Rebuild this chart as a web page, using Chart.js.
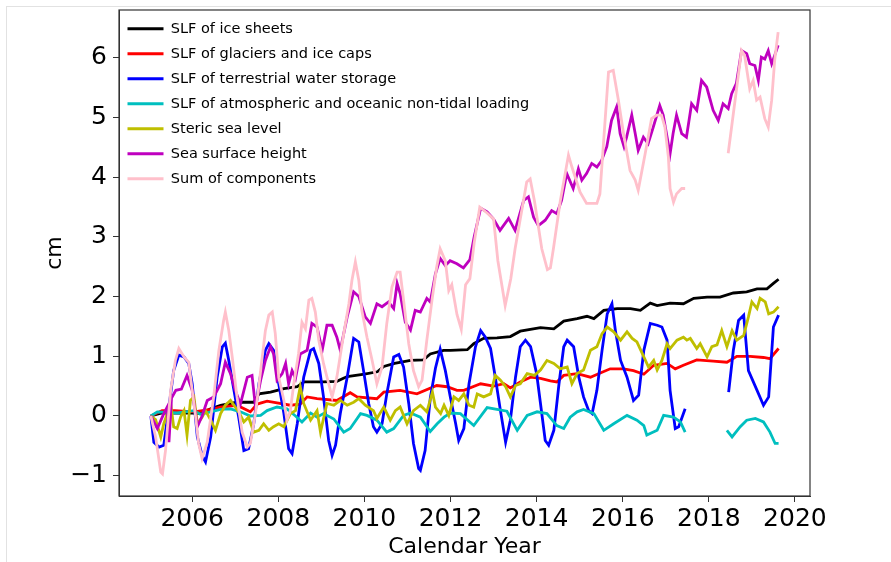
<!DOCTYPE html>
<html>
<head>
<meta charset="utf-8">
<script src="https://cdn.jsdelivr.net/npm/chart.js@4.4.1/dist/chart.umd.min.js"></script>
<style>
  html, body { margin: 0; padding: 0; background: #fff; }
  #wrap { position: relative; width: 891px; height: 562px; }
  #edge { position: absolute; left: 6px; top: 6px; right: 0; bottom: 0;
          border-top: 1px solid #e2e2e2; border-left: 1px solid #e2e2e2; pointer-events: none; }
  canvas { position: absolute; left: 0; top: 0; }
</style>
</head>
<body>
<div id="wrap">
  <canvas id="c" width="891" height="562"></canvas>
  <div id="edge"></div>
</div>
<script>
// Sea-level budget components, [decimal year, cm]; null marks the data gap
const iceSheets = [
  [2005.04,0.00],[2005.3,0.05],[2005.6,0.05],[2006.0,0.05],[2006.2,0.04],[2006.43,0.12],[2006.66,0.18],
  [2007.04,0.23],[2007.43,0.23],[2007.55,0.37],[2007.82,0.40],[2008.13,0.46],[2008.44,0.49],[2008.6,0.57],
  [2009.05,0.57],[2009.36,0.58],[2009.6,0.66],[2010.0,0.70],[2010.3,0.74],[2010.45,0.83],[2010.7,0.88],
  [2011.07,0.93],[2011.37,0.94],[2011.53,1.04],[2011.84,1.10],[2012.0,1.10],[2012.39,1.11],[2012.54,1.21],
  [2012.77,1.30],[2013.08,1.31],[2013.39,1.33],[2013.62,1.42],[2014.09,1.48],[2014.4,1.46],[2014.63,1.59],
  [2014.94,1.63],[2015.17,1.67],[2015.33,1.63],[2015.56,1.77],[2015.87,1.80],[2016.18,1.80],[2016.41,1.77],
  [2016.64,1.89],[2016.8,1.85],[2017.1,1.89],[2017.41,1.88],[2017.65,1.97],[2017.96,1.99],[2018.26,1.99],
  [2018.57,2.06],[2018.88,2.08],[2019.12,2.13],[2019.35,2.13],[2019.5,2.22],[2019.62,2.29]
];
const glaciers = [
  [2005.04,0.00],[2005.3,0.09],[2005.6,0.09],[2006.04,0.07],[2006.43,0.11],[2006.66,0.15],[2007.04,0.18],
  [2007.35,0.07],[2007.51,0.20],[2007.74,0.25],[2007.97,0.22],[2008.28,0.18],[2008.51,0.20],[2008.67,0.32],
  [2008.9,0.29],[2009.36,0.26],[2009.67,0.39],[2009.83,0.32],[2010.29,0.29],[2010.45,0.40],[2010.83,0.43],
  [2011.22,0.37],[2011.68,0.51],[2011.92,0.49],[2012.15,0.43],[2012.31,0.43],[2012.7,0.54],[2013.0,0.50],
  [2013.24,0.54],[2013.39,0.47],[2013.62,0.57],[2013.86,0.65],[2014.09,0.63],[2014.32,0.59],[2014.47,0.57],
  [2014.63,0.68],[2014.94,0.71],[2015.25,0.65],[2015.48,0.72],[2015.71,0.79],[2016.02,0.79],[2016.25,0.76],
  [2016.49,0.70],[2016.72,0.85],[2017.03,0.88],[2017.22,0.79],[2017.41,0.85],[2017.72,0.94],[2018.1,0.92],
  [2018.42,0.90],[2018.65,1.00],[2018.96,1.00],[2019.27,0.98],[2019.42,0.96],[2019.62,1.13]
];
const waterStorage = [
  [2005.04,0.00],[2005.11,-0.44],[2005.23,-0.52],[2005.34,-0.49],[2005.46,0.15],[2005.57,0.76],[2005.69,1.02],
  [2005.81,0.99],[2005.92,0.88],[2006.0,0.54],[2006.12,-0.35],[2006.23,-0.66],[2006.31,-0.77],[2006.43,-0.35],
  [2006.58,0.65],[2006.7,1.16],[2006.77,1.22],[2006.85,0.93],[2006.97,0.43],[2007.08,-0.02],[2007.2,-0.58],
  [2007.31,-0.55],[2007.43,-0.13],[2007.55,0.54],[2007.7,1.10],[2007.78,1.21],[2007.89,1.10],[2008.01,0.54],
  [2008.13,0.04],[2008.24,-0.55],[2008.32,-0.63],[2008.44,-0.13],[2008.59,0.65],[2008.75,1.10],[2008.82,1.13],
  [2008.94,0.88],[2009.05,0.32],[2009.17,-0.41],[2009.25,-0.66],[2009.33,-0.49],[2009.44,0.04],[2009.6,0.65],
  [2009.75,1.30],[2009.87,1.24],[2009.98,0.76],[2010.1,0.21],[2010.21,-0.18],[2010.29,-0.27],[2010.41,-0.13],
  [2010.52,0.37],[2010.68,0.99],[2010.8,1.03],[2010.91,0.82],[2011.03,0.21],[2011.14,-0.46],[2011.26,-0.88],
  [2011.3,-0.91],[2011.41,-0.58],[2011.53,0.30],[2011.65,0.80],[2011.76,1.12],[2011.88,0.76],[2012.0,0.30],
  [2012.12,-0.13],[2012.19,-0.41],[2012.31,-0.21],[2012.43,0.54],[2012.58,1.16],[2012.7,1.43],[2012.81,1.32],
  [2012.93,1.13],[2013.04,0.65],[2013.16,0.09],[2013.28,-0.44],[2013.39,-0.07],[2013.51,0.65],[2013.62,1.16],
  [2013.74,1.27],[2013.86,1.16],[2014.0,0.71],[2014.09,0.21],[2014.2,-0.41],[2014.28,-0.49],[2014.4,-0.24],
  [2014.52,0.54],[2014.63,1.16],[2014.71,1.27],[2014.86,1.16],[2014.98,0.65],[2015.09,0.32],[2015.21,0.09],
  [2015.29,0.04],[2015.4,0.43],[2015.52,1.10],[2015.64,1.71],[2015.75,1.88],[2015.83,1.43],[2015.95,0.93],
  [2016.1,0.65],[2016.25,0.26],[2016.37,0.35],[2016.49,1.10],[2016.64,1.55],[2016.8,1.52],[2016.91,1.49],
  [2017.03,1.27],[2017.1,0.43],[2017.22,-0.21],[2017.3,-0.18],[2017.45,0.12],[2017.95,null],
  [2018.46,0.40],[2018.57,1.10],[2018.69,1.60],[2018.81,1.69],[2018.92,0.76],[2019.12,0.43],[2019.27,0.18],
  [2019.39,0.32],[2019.5,1.49],[2019.62,1.69]
];
const atmOcean = [
  [2005.04,0.00],[2005.19,0.07],[2005.65,0.05],[2006.04,0.09],[2006.19,0.03],[2006.43,0.07],[2006.66,0.11],
  [2006.89,0.12],[2007.12,0.07],[2007.35,0.00],[2007.59,0.01],[2007.74,0.09],[2007.97,0.15],[2008.2,0.12],
  [2008.4,0.00],[2008.55,-0.10],[2008.75,0.05],[2008.9,-0.02],[2009.05,0.04],[2009.29,-0.05],[2009.52,-0.27],
  [2009.67,-0.21],[2009.91,0.04],[2010.06,0.01],[2010.29,-0.07],[2010.52,-0.27],[2010.68,-0.21],[2010.91,0.01],
  [2011.07,0.05],[2011.3,-0.02],[2011.53,-0.26],[2011.69,-0.13],[2011.85,-0.02],[2012.0,0.05],[2012.23,0.04],
  [2012.54,-0.16],[2012.85,0.14],[2013.08,0.11],[2013.31,0.08],[2013.55,-0.24],[2013.78,0.01],[2014.01,0.07],
  [2014.24,0.04],[2014.47,-0.16],[2014.63,-0.21],[2014.78,-0.02],[2014.94,0.07],[2015.09,0.11],[2015.33,0.04],
  [2015.56,-0.24],[2015.79,-0.13],[2016.1,0.01],[2016.33,-0.07],[2016.49,-0.16],[2016.56,-0.32],[2016.8,-0.24],
  [2016.95,0.01],[2017.18,-0.02],[2017.34,-0.10],[2017.45,-0.27],[2017.95,null],
  [2018.42,-0.24],[2018.54,-0.35],[2018.73,-0.18],[2018.88,-0.07],[2019.08,-0.04],[2019.27,-0.10],
  [2019.42,-0.27],[2019.54,-0.46],[2019.62,-0.46]
];
const stericSeaLevel = [
  [2005.04,0.00],[2005.15,-0.06],[2005.27,-0.35],[2005.34,-0.13],[2005.42,0.04],[2005.5,0.21],[2005.57,-0.18],
  [2005.65,-0.21],[2005.73,-0.02],[2005.81,0.09],[2005.88,-0.32],[2005.96,0.26],[2006.04,0.32],[2006.12,-0.13],
  [2006.23,-0.02],[2006.31,0.09],[2006.43,-0.07],[2006.54,-0.24],[2006.66,0.04],[2006.77,0.18],[2006.89,0.26],
  [2007.0,0.15],[2007.08,0.07],[2007.2,-0.10],[2007.31,-0.02],[2007.43,-0.27],[2007.55,-0.24],[2007.66,-0.13],
  [2007.78,-0.24],[2007.89,-0.18],[2008.01,-0.13],[2008.13,-0.18],[2008.28,0.04],[2008.4,0.09],[2008.51,0.49],
  [2008.59,0.21],[2008.75,-0.07],[2008.9,0.09],[2008.98,-0.27],[2009.13,0.21],[2009.29,0.18],[2009.44,0.26],
  [2009.6,0.18],[2009.75,0.23],[2009.87,0.29],[2010.02,0.18],[2010.21,0.09],[2010.29,-0.04],[2010.45,0.15],
  [2010.6,-0.07],[2010.72,0.09],[2010.83,0.15],[2010.99,-0.13],[2011.14,0.09],[2011.3,0.18],[2011.45,0.07],
  [2011.58,0.40],[2011.65,0.15],[2011.77,0.04],[2011.85,0.18],[2011.96,0.01],[2012.08,0.32],[2012.19,0.26],
  [2012.31,0.37],[2012.43,0.18],[2012.54,0.15],[2012.62,0.37],[2012.77,0.32],[2012.93,0.37],[2013.04,0.68],
  [2013.16,0.60],[2013.28,0.49],[2013.39,0.32],[2013.51,0.51],[2013.62,0.54],[2013.78,0.71],[2013.95,0.68],
  [2014.09,0.77],[2014.24,0.93],[2014.4,0.88],[2014.55,0.79],[2014.71,0.82],[2014.82,0.54],[2014.94,0.71],
  [2015.09,0.77],[2015.25,1.10],[2015.4,1.16],[2015.52,1.38],[2015.64,1.49],[2015.79,1.41],[2015.95,1.27],
  [2016.1,1.41],[2016.22,1.30],[2016.33,1.24],[2016.49,0.99],[2016.6,0.82],[2016.72,0.93],[2016.8,0.77],
  [2016.91,0.93],[2017.03,1.21],[2017.1,1.13],[2017.26,1.27],[2017.41,1.32],[2017.49,1.27],[2017.57,1.30],
  [2017.72,1.13],[2017.8,1.21],[2017.96,0.99],[2018.07,1.16],[2018.19,1.19],[2018.3,1.43],[2018.42,1.16],
  [2018.54,1.43],[2018.65,1.27],[2018.81,1.35],[2018.92,1.66],[2019.0,1.91],[2019.12,1.80],[2019.19,1.97],
  [2019.31,1.91],[2019.39,1.71],[2019.5,1.74],[2019.62,1.83]
];
const seaSurfaceHeight = [
  [2005.04,0.00],[2005.19,-0.21],[2005.34,0.04],[2005.42,0.15],[2005.46,-0.44],[2005.52,0.30],[2005.62,0.43],
  [2005.75,0.45],[2005.88,0.68],[2006.0,0.43],[2006.12,-0.18],[2006.23,0.00],[2006.35,0.26],[2006.5,0.32],
  [2006.66,0.54],[2006.77,0.90],[2006.89,0.71],[2007.0,0.43],[2007.12,0.20],[2007.28,0.65],[2007.39,0.68],
  [2007.47,0.15],[2007.59,0.60],[2007.7,0.93],[2007.82,1.16],[2007.89,1.04],[2007.97,0.60],[2008.09,0.71],
  [2008.17,0.88],[2008.24,0.54],[2008.32,0.76],[2008.4,0.63],[2008.51,1.04],[2008.67,1.10],[2008.78,1.55],
  [2008.9,1.49],[2009.02,1.10],[2009.13,1.52],[2009.25,1.52],[2009.36,1.32],[2009.44,1.10],[2009.6,1.66],
  [2009.75,2.08],[2009.87,2.00],[2010.02,1.66],[2010.14,1.55],[2010.29,1.88],[2010.41,1.83],[2010.56,1.91],
  [2010.68,1.80],[2010.76,2.22],[2010.83,2.05],[2010.95,1.57],[2011.07,1.44],[2011.18,1.77],[2011.3,1.74],
  [2011.45,1.97],[2011.53,1.91],[2011.65,2.38],[2011.76,2.64],[2011.88,2.52],[2011.99,2.60],[2012.15,2.55],
  [2012.3,2.48],[2012.45,2.62],[2012.55,3.00],[2012.7,3.48],[2012.85,3.42],[2013.0,3.30],[2013.15,3.11],
  [2013.35,3.31],[2013.5,3.11],[2013.7,3.61],[2013.81,3.67],[2013.93,3.33],[2014.04,3.19],[2014.2,3.28],
  [2014.35,3.44],[2014.47,3.39],[2014.58,3.61],[2014.7,4.06],[2014.85,3.81],[2014.97,4.14],[2015.05,3.95],
  [2015.16,4.06],[2015.28,4.23],[2015.4,4.17],[2015.51,4.28],[2015.63,4.51],[2015.74,4.95],[2015.86,5.18],
  [2015.94,4.73],[2016.03,4.51],[2016.09,4.67],[2016.21,5.04],[2016.29,4.73],[2016.36,4.45],[2016.48,4.67],
  [2016.59,4.56],[2016.71,4.84],[2016.86,5.20],[2016.94,5.04],[2017.1,4.39],[2017.17,4.73],[2017.25,5.04],
  [2017.37,4.73],[2017.48,4.67],[2017.6,5.23],[2017.72,5.12],[2017.83,5.62],[2017.95,5.51],[2018.1,5.12],
  [2018.22,4.95],[2018.33,5.23],[2018.45,5.15],[2018.53,5.40],[2018.64,5.57],[2018.76,6.12],[2018.88,6.07],
  [2018.95,5.90],[2019.07,5.87],[2019.15,5.62],[2019.22,6.01],[2019.3,5.98],[2019.38,6.12],[2019.46,5.90],
  [2019.53,6.04],[2019.61,6.21]
];
const sumOfComponents = [
  [2005.04,0.00],[2005.15,-0.35],[2005.27,-0.94],[2005.31,-0.97],[2005.38,-0.58],[2005.5,0.43],[2005.61,0.93],
  [2005.69,1.13],[2005.81,0.99],[2005.92,0.90],[2006.0,0.43],[2006.08,-0.02],[2006.15,-0.46],[2006.23,-0.71],
  [2006.35,-0.44],[2006.5,0.32],[2006.62,1.10],[2006.73,1.60],[2006.77,1.74],[2006.85,1.43],[2006.93,0.99],
  [2007.04,0.32],[2007.16,-0.27],[2007.28,-0.52],[2007.35,-0.46],[2007.47,0.04],[2007.59,0.76],[2007.7,1.43],
  [2007.78,1.69],[2007.86,1.74],[2007.93,1.38],[2008.01,0.65],[2008.13,0.26],[2008.2,-0.07],[2008.28,0.09],
  [2008.36,0.54],[2008.47,1.04],[2008.55,1.57],[2008.63,1.46],[2008.71,1.94],[2008.78,1.97],[2008.86,1.74],
  [2008.94,1.27],[2009.05,0.88],[2009.17,0.54],[2009.25,0.32],[2009.36,0.65],[2009.52,1.38],[2009.64,1.88],
  [2009.71,2.27],[2009.79,2.58],[2009.87,2.27],[2009.94,1.77],[2010.06,1.32],[2010.18,0.93],[2010.29,0.54],
  [2010.41,0.82],[2010.52,1.55],[2010.64,2.16],[2010.76,2.41],[2010.83,2.41],[2010.91,1.94],[2011.03,1.21],
  [2011.14,0.76],[2011.26,0.49],[2011.34,0.60],[2011.45,1.27],[2011.57,1.94],[2011.68,2.50],[2011.76,2.80],
  [2011.88,2.60],[2011.96,2.10],[2012.03,2.20],[2012.15,1.70],[2012.25,1.45],[2012.35,2.20],[2012.45,2.30],
  [2012.55,2.90],[2012.68,3.50],[2012.85,3.40],[2013.0,3.30],[2013.1,2.60],[2013.27,1.85],[2013.4,2.30],
  [2013.5,2.80],[2013.77,3.92],[2013.85,3.97],[2013.95,3.60],[2014.12,2.80],[2014.25,2.45],[2014.32,2.48],
  [2014.39,2.80],[2014.55,3.60],[2014.74,4.37],[2014.82,4.17],[2015.01,3.75],[2015.16,3.56],[2015.4,3.56],
  [2015.47,3.72],[2015.67,5.76],[2015.78,5.79],[2015.9,5.29],[2016.02,4.73],[2016.17,4.11],[2016.29,3.95],
  [2016.36,3.78],[2016.52,4.39],[2016.67,4.98],[2016.79,5.04],[2016.9,5.04],[2016.98,4.84],[2017.06,4.34],
  [2017.1,3.81],[2017.18,3.58],[2017.25,3.72],[2017.37,3.81],[2017.45,3.81],[2017.95,null],
  [2018.45,4.40],[2018.76,6.12],[2018.83,6.04],[2018.95,5.48],[2019.03,5.62],[2019.11,5.29],[2019.19,5.34],
  [2019.3,4.98],[2019.38,4.84],[2019.46,5.29],[2019.53,5.96],[2019.61,6.43]
];

const seriesLabels = [
  'SLF of ice sheets',
  'SLF of glaciers and ice caps',
  'SLF of terrestrial water storage',
  'SLF of atmospheric and oceanic non-tidal loading',
  'Steric sea level',
  'Sea surface height',
  'Sum of components'
];
const seriesColors = ['#000000', '#ff0000', '#0000ff', '#00bfbf', '#bfbf00', '#bf00bf', '#ffc0cb'];
const seriesData = [iceSheets, glaciers, waterStorage, atmOcean, stericSeaLevel, seaSurfaceHeight, sumOfComponents];

const yearTicks = [2006, 2008, 2010, 2012, 2014, 2016, 2018, 2020];
const cmTicks = [-1, 0, 1, 2, 3, 4, 5, 6];

Chart.defaults.font.family = "'DejaVu Sans', sans-serif";
Chart.defaults.color = '#000';

// Box around the plotting area, drawn over the lines like axis spines
const frame = {
  id: 'frame',
  afterDatasetsDraw(chart) {
    const a = chart.chartArea, ctx = chart.ctx;
    ctx.save();
    ctx.strokeStyle = '#333';
    ctx.lineWidth = 1.2;
    ctx.strokeRect(a.left, a.top, a.right - a.left, a.bottom - a.top);
    ctx.restore();
  }
};

// Keep the in-plot legend anchored to the top-left corner of the plotting area
const legendAnchor = {
  id: 'legendAnchor',
  afterLayout(chart) {
    const lg = chart.legend;
    if (!lg) return;
    const dy = chart.chartArea.top + 1 - lg.top;
    lg.top += dy;
    lg.bottom += dy;
    lg.left -= 2;
    lg.right -= 2;
  }
};

const datasets = seriesData.map((pairs, i) => ({
  label: seriesLabels[i],
  data: pairs.map(p => ({ x: p[0], y: p[1] })),
  borderColor: seriesColors[i],
  backgroundColor: seriesColors[i],
  borderWidth: 2.8,
  pointRadius: 0,
  tension: 0,
  spanGaps: false,
  order: seriesData.length - i   // later series are painted on top
}));

new Chart(document.getElementById('c'), {
  type: 'line',
  data: { datasets },
  options: {
    responsive: false,
    animation: false,
    layout: { padding: { top: 10, right: 81, left: 0, bottom: 0 } },
    scales: {
      x: {
        type: 'linear',
        min: 2004.3,
        max: 2020.35,
        afterBuildTicks: s => { s.ticks = yearTicks.map(v => ({ value: v })); },
        afterFit: s => { s.height = 66; s.paddingLeft = 0; s.paddingRight = 0; },
        grid: { drawOnChartArea: false, drawTicks: true, tickLength: 6, color: '#333' },
        border: { display: true, color: '#333' },
        ticks: { font: { size: 25 }, color: '#000', padding: 2, maxRotation: 0, autoSkip: false,
                 callback: v => String(v) },
        title: { display: true, text: 'Calendar Year', font: { size: 22 }, color: '#000',
                 padding: { top: 0, bottom: 2 } }
      },
      y: {
        min: -1.34,
        max: 6.8,
        afterBuildTicks: s => { s.ticks = cmTicks.map(v => ({ value: v })); },
        afterFit: s => { s.width = 119; s.paddingTop = 0; s.paddingBottom = 0; },
        grid: { drawOnChartArea: false, drawTicks: true, tickLength: 6, color: '#333' },
        border: { display: true, color: '#333' },
        ticks: { font: { size: 25 }, color: '#000', padding: 6, autoSkip: false,
                 callback: v => (v < 0 ? '\u2212' + Math.abs(v) : String(v)) },
        title: { display: true, text: 'cm', font: { size: 22 }, color: '#000',
                 padding: { top: 42, bottom: 0 } }
      }
    },
    plugins: {
      tooltip: { enabled: false },
      legend: {
        position: 'chartArea',
        align: 'start',
        labels: {
          font: { size: 14.5 },
          color: '#000',
          padding: 10.5,
          usePointStyle: true,
          pointStyle: 'line',
          pointStyleWidth: 36,
          sort: (a, b) => a.datasetIndex - b.datasetIndex
        }
      }
    }
  },
  plugins: [frame, legendAnchor]
});
</script>
</body>
</html>
